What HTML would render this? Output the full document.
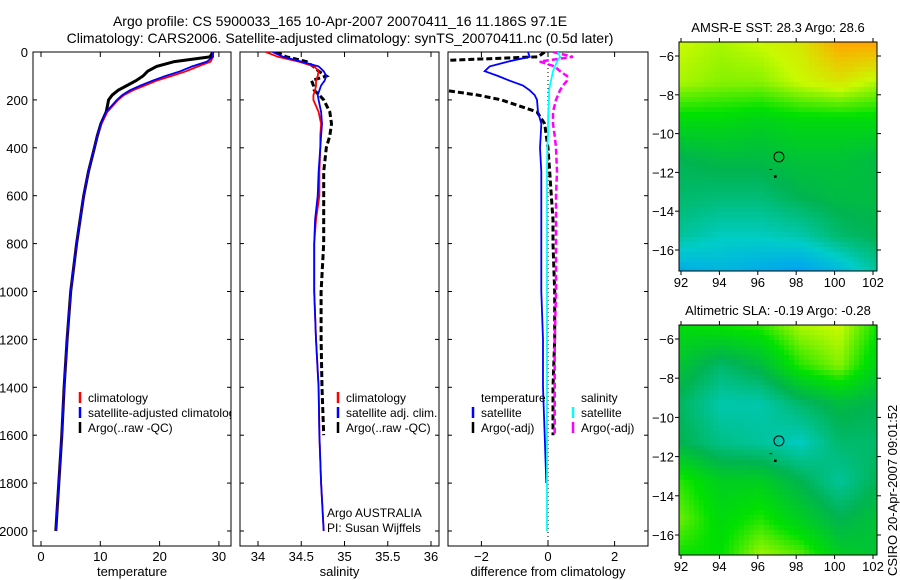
<!DOCTYPE html>
<html><head><meta charset="utf-8"><style>
html,body{margin:0;padding:0;background:#fff;}
svg{display:block;font-family:"Liberation Sans",sans-serif;}
</style></head><body>
<svg id="chart" width="900" height="580" viewBox="0 0 900 580" xmlns="http://www.w3.org/2000/svg">
<defs>
<clipPath id="c1"><rect x="33" y="52" width="198" height="494"/></clipPath>
<clipPath id="c2"><rect x="240" y="52" width="199" height="494"/></clipPath>
<clipPath id="c3"><rect x="448" y="52" width="200" height="494"/></clipPath>
</defs>
<text x="340" y="26" font-size="14" text-anchor="middle">Argo profile: CS 5900033_165 10-Apr-2007 20070411_16 11.186S 97.1E</text>
<text x="340" y="43" font-size="14" text-anchor="middle">Climatology: CARS2006. Satellite-adjusted climatology: synTS_20070411.nc (0.5d later)</text>
<g id="g"></g>
<text transform="translate(897,576) rotate(-90)" font-size="13">CSIRO 20-Apr-2007 09:01:52</text>
</svg>
<script>
const depths=[0,20,40,60,80,100,120,140,160,180,200,250,300,350,400,500,600,700,800,1000,1200,1400,1600,1800,2000];
const tClim=[29,29,28.6,26.5,24.5,22,19.5,17.5,15.5,14,13,11.2,10.2,9.5,9,8,7.2,6.6,6,5,4.4,3.9,3.5,3,2.5];
const tSat=[29,29,28,25.5,23.5,21,18.8,16.8,15,13.7,12.8,11,10.1,9.5,9,8,7.2,6.6,6,5,4.4,3.9,3.5,3,2.5];
const tArgo=[29,28.5,22.5,19.5,18,17.2,16,14.5,13,12,11.4,11,10.1,9.5,9,8,7.2,6.6,6,5,4.4,3.9,3.5,3,2.5];
const sClim=[34.09,34.23,34.47,34.65,34.70,34.69,34.67,34.67,34.66,34.64,34.64,34.70,34.73,34.72,34.72,34.71,34.71,34.67,34.65,34.65,34.67,34.70,34.71,34.73,34.76];
const sSat=[34.17,34.29,34.50,34.70,34.76,34.79,34.77,34.73,34.71,34.69,34.70,34.73,34.74,34.73,34.72,34.70,34.69,34.66,34.65,34.65,34.67,34.70,34.71,34.73,34.76];
const sArgo=[34.21,34.33,34.56,34.64,34.70,34.79,34.62,34.64,34.65,34.71,34.76,34.83,34.85,34.83,34.79,34.76,34.76,34.76,34.76,34.73,34.73,34.74,34.76,null,null];
const tDiffSat=[-0.6,-0.55,-1.2,-1.75,-1.9,-1.5,-1.15,-0.75,-0.55,-0.4,-0.33,-0.3,-0.2,-0.22,-0.24,-0.2,-0.2,-0.2,-0.2,-0.2,-0.15,-0.15,-0.1,-0.05,null];
const tDiffArgo=[-0.1,-0.3,-4,-5,-5,-5,-5,-5,-3.1,-2.1,-1.4,-0.33,-0.1,-0.05,0,0.05,0.1,0.15,0.15,0.2,0.2,0.15,0.15,null,null];
const sDiffSat=[0.3,0.36,0.27,0.21,0.15,0.12,0.09,0.06,0.03,0.03,0.03,0.01,0,0,-0.02,-0.03,-0.03,-0.03,-0.03,-0.03,-0.03,-0.03,-0.03,-0.03,-0.03];
const sDiffArgo=[0.15,0.75,-0.25,0.2,0.36,0.57,0.57,0.45,0.36,0.3,0.24,0.15,0.15,0.2,0.24,0.27,0.24,0.24,0.24,0.24,0.2,0.2,0.2,null,null];
const depthTicks=[0,200,400,600,800,1000,1200,1400,1600,1800,2000];
const tTicks=[0,10,20,30];
const sTicks=[34,34.5,35,35.5,36];
const sTickLabels=["34","34.5","35","35.5","36"];
const dTicks=[-2,0,2];
const latTicks=[-6,-8,-10,-12,-14,-16];
const lonTicks=[92,94,96,98,100,102];
const sstGrid=[[.72,.70,.72,.75,.85,.85],[.70,.68,.68,.72,.75,.70],[.58,.58,.56,.58,.58,.58],[.48,.50,.50,.52,.52,.50],[.45,.44,.44,.48,.50,.50],[.40,.36,.36,.38,.45,.48],[.25,.28,.25,.22,.28,.40]];
const slaGrid=[[.58,.60,.62,.70,.72,.60],[.52,.45,.50,.62,.68,.55],[.46,.38,.38,.45,.50,.48],[.48,.42,.40,.36,.45,.45],[.62,.55,.55,.48,.40,.48],[.66,.58,.62,.55,.48,.52],[.60,.60,.70,.66,.55,.52]];
const argoPos=[97.1,-11.2];

const NS="http://www.w3.org/2000/svg";
const G=document.getElementById('g');
function el(t,a,p){const e=document.createElementNS(NS,t);for(const k in a)e.setAttribute(k,a[k]);(p||G).appendChild(e);return e;}
const yD=d=>52+d*0.2395;
const xT=v=>41+5.93*v, xS=v=>258+86.5*(v-34), xDf=v=>548+33.3*v;

function frame(x0,x1,name){
  const r=el('rect',{x:x0,y:52,width:x1-x0,height:494,fill:'none',stroke:'#000','stroke-width':1});
  
}
function depthAxis(){
  depthTicks.forEach(d=>{
    const y=yD(d);
    el('line',{x1:33,y1:y,x2:37,y2:y,stroke:'#000'});
    el('line',{x1:227,y1:y,x2:231,y2:y,stroke:'#000'});
    const t=el('text',{x:28,y:y+5,'font-size':13,'text-anchor':'end'});t.textContent=d;
    
  });
}
function xAxis(ticks,labels,fx,x0,x1,title,tname){
  ticks.forEach((v,i)=>{const x=fx(v);
    el('line',{x1:x,y1:546,x2:x,y2:541,stroke:'#000'});el('line',{x1:x,y1:52,x2:x,y2:57,stroke:'#000'});
    const t=el('text',{x:x,y:561,'font-size':13,'text-anchor':'middle'});t.textContent=labels[i];
    });
  const t=el('text',{x:(x0+x1)/2,y:576,'font-size':13,'text-anchor':'middle'});t.textContent=title;
  
}
function line(vals,fx,color,w,dash,clip,name){
  let d='',pen=false;
  vals.forEach((v,i)=>{if(v===null){pen=false;return;}d+=(pen?'L':'M')+fx(v).toFixed(1)+','+yD(depths[i]).toFixed(1);pen=true;});
  const a={d:d,fill:'none',stroke:color,'stroke-width':w,'clip-path':'url(#'+clip+')'};
  if(dash)a['stroke-dasharray']=dash;
  const p=el('path',a);
}
function legend(x,y,items,name,clip){
  const g=el('g',{'clip-path':clip?'url(#'+clip+')':''});
  items.forEach((it,i)=>{const yy=y+i*15;
    if(it[0])el('line',{x1:x,y1:yy-10,x2:x,y2:yy+1,stroke:it[0],'stroke-width':2.5},g);
    const t=el('text',{x:x+8,y:yy,'font-size':12},g);t.textContent=it[1];});
}
frame(33,231,'temperature-panel');depthAxis();
xAxis(tTicks,tTicks.map(String),xT,33,231,'temperature','temperature-axis-title');
line(tArgo,xT,'#000',3,null,'c1','temperature-argo-line');
line(tClim,xT,'#f00',1.8,null,'c1','temperature-climatology-line');
line(tSat,xT,'#00f',1.8,null,'c1','temperature-satellite-line');
legend(80,402,[['#f00','climatology'],['#00f','satellite-adjusted climatology'],['#000','Argo(..raw -QC)']],'temperature-legend','c1');
frame(240,439,'salinity-panel');
depthTicks.forEach(d=>{const y=yD(d);el('line',{x1:240,y1:y,x2:244,y2:y,stroke:'#000'});el('line',{x1:435,y1:y,x2:439,y2:y,stroke:'#000'});});
xAxis(sTicks,sTickLabels,xS,240,439,'salinity','salinity-axis-title');
line(sArgo,xS,'#000',3,'6,3','c2','salinity-argo-line');
line(sClim,xS,'#f00',1.8,null,'c2','salinity-climatology-line');
line(sSat,xS,'#00f',1.8,null,'c2','salinity-satellite-line');
legend(338,402,[['#f00','climatology'],['#00f','satellite adj. clim.'],['#000','Argo(..raw -QC)']],'salinity-legend','c2');
legend(319,517,[[null,'Argo AUSTRALIA'],[null,'PI: Susan Wijffels']],'operator-note','c2');
frame(448,648,'difference-panel');
depthTicks.forEach(d=>{const y=yD(d);el('line',{x1:448,y1:y,x2:452,y2:y,stroke:'#000'});el('line',{x1:644,y1:y,x2:648,y2:y,stroke:'#000'});});
xAxis(dTicks,['\u22122','0','2'],xDf,448,648,'difference from climatology','difference-axis-title');
el('line',{x1:xDf(0),y1:52,x2:xDf(0),y2:546,stroke:'#000','stroke-dasharray':'1,3'});
line(tDiffArgo,xDf,'#000',3,'6,3','c3','temperature-diff-argo-line');
line(sDiffArgo,xDf,'#f0f',2.5,'6,3','c3','salinity-diff-argo-line');
line(tDiffSat,xDf,'#00f',1.8,null,'c3','temperature-diff-satellite-line');
line(sDiffSat,xDf,'#0ff',1.8,null,'c3','salinity-diff-satellite-line');
legend(473,402,[[null,'temperature'],['#00f','satellite'],['#000','Argo(-adj)']],'temperature-diff-legend','c3');
legend(573,402,[[null,'salinity'],['#0ff','satellite'],['#f0f','Argo(-adj)']],'salinity-diff-legend','c3');
const stops=[[0.2,[0,150,255]],[0.35,[0,205,200]],[0.48,[0,180,80]],[0.6,[0,225,0]],[0.72,[200,250,0]],[0.85,[255,170,0]]];
function cmap(v){if(v<=stops[0][0])return stops[0][1];for(let i=1;i<stops.length;i++){if(v<=stops[i][0]){const a=stops[i-1],b=stops[i],f=(v-a[0])/(b[0]-a[0]);return a[1].map((c,k)=>Math.round(c+(b[1][k]-c)*f));}}return stops[stops.length-1][1];}
function map(grid,x0,y0,w,h,title,name,ydeg){
  const g=el('g',{});
  const cs=5,R=grid.length-1,C=grid[0].length-1;
  for(let yy=0;yy<h;yy+=cs)for(let xx=0;xx<w;xx+=cs){
    const fy=yy/h*R,fx=xx/w*C,i=Math.min(Math.floor(fy),R-1),j=Math.min(Math.floor(fx),C-1),a=fy-i,b=fx-j;
    const v=grid[i][j]*(1-a)*(1-b)+grid[i][j+1]*(1-a)*b+grid[i+1][j]*a*(1-b)+grid[i+1][j+1]*a*b;
    const c=cmap(v);el('rect',{x:x0+xx,y:y0+yy,width:Math.min(cs+0.5,w-xx),height:Math.min(cs+0.5,h-yy),fill:'rgb('+c+')'},g);}
  el('rect',{x:x0,y:y0,width:w,height:h,fill:'none',stroke:'#000'},g);
  const lx=v=>681+(v-92)*19.2, ly=v=>ydeg(v);
  lonTicks.forEach(v=>{const x=lx(v);el('line',{x1:x,y1:y0+h,x2:x,y2:y0+h+4,stroke:'#000'},g);el('line',{x1:x,y1:y0,x2:x,y2:y0-4,stroke:'#000'},g);
    const t=el('text',{x:x,y:y0+h+16,'font-size':13,'text-anchor':'middle'},g);t.textContent=v;});
  latTicks.forEach(v=>{const y=ly(v);el('line',{x1:x0,y1:y,x2:x0-4,y2:y,stroke:'#000'},g);el('line',{x1:x0+w,y1:y,x2:x0+w+4,y2:y,stroke:'#000'},g);
    const t=el('text',{x:x0-5,y:y+5,'font-size':13,'text-anchor':'end'},g);t.textContent=v<0?'\u2212'+(-v):v;});
  el('circle',{cx:lx(argoPos[0]),cy:ly(argoPos[1]),r:5,fill:'none',stroke:'#000'},g);
  el('rect',{x:lx(96.9)-1,y:ly(-12.2)-1,width:2.5,height:2.5,fill:'#000'},g);
  el('line',{x1:lx(96.6),y1:ly(-11.85),x2:lx(96.75),y2:ly(-11.85),stroke:'#000'},g);
  const t=el('text',{x:x0+w/2,y:y0-10,'font-size':13,'text-anchor':'middle'},g);t.textContent=title;
}
map(sstGrid,679,42,198,229,'AMSR-E SST: 28.3 Argo: 28.6','sst-map',v=>56+(-6-v)*19.4);
map(slaGrid,679,325,198,230,'Altimetric SLA: -0.19 Argo: -0.28','sla-map',v=>339+(-6-v)*19.6);
</script>
</body></html>
